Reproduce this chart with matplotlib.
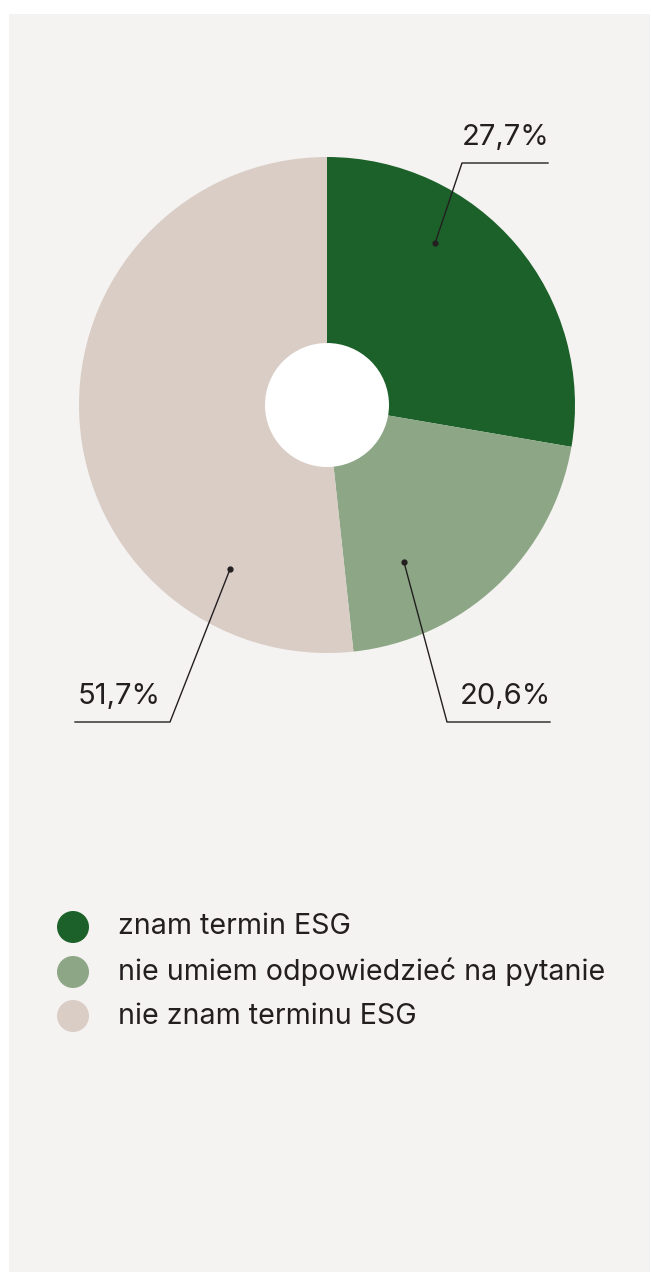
import matplotlib
matplotlib.use('Agg')
import matplotlib.pyplot as plt
from matplotlib.patches import Rectangle, Circle
import numpy as np

plt.rcParams['font.family'] = ['Inter', 'DejaVu Sans']

categories = ['znam termin ESG', 'nie umiem odpowiedzieć na pytanie', 'nie znam terminu ESG']
shares = [27.7, 20.6, 51.7]
labels = ['27,7%', '20,6%', '51,7%']
colors = ['#1c6129', '#8ca686', '#d9cdc6']

W, H = 651, 1272
fig = plt.figure(figsize=(W / 100, H / 100), dpi=100)
fig.patch.set_facecolor('white')
ax = fig.add_axes([0, 0, 1, 1])

# panel background
ax.add_patch(Rectangle((9, 0), 641, H - 14, facecolor='#f5f3f1', edgecolor='none', zorder=0))

cx, cy, R = 327, H - 405, 248
wedges, _ = ax.pie(shares, colors=colors, startangle=90, counterclock=False,
                   center=(cx, cy), radius=R, frame=True,
                   wedgeprops=dict(edgecolor='none', linewidth=0))
ax.set_xlim(0, W)
ax.set_ylim(0, H)
ax.set_aspect('equal')
ax.axis('off')
ax.add_patch(Circle((cx, cy), 62, facecolor='white', edgecolor='none', zorder=5))

# leader lines: (angle of dot, radius of dot, elbow point, line end, text side)
leaders = [
    (56.3, 195, (462, 163), (548, 163), 'right'),
    (-63.9, 175, (447, 722), (550, 722), 'right'),
    (-120.6, 190, (170, 722), (75, 722), 'left'),
]
for lab, (ang, r, elbow, end, side) in zip(labels, leaders):
    dx = cx + r * np.cos(np.radians(ang))
    dy = cy + r * np.sin(np.radians(ang))
    ex, ey = elbow[0], H - elbow[1]
    fx, fy = end[0], H - end[1]
    ax.plot([dx, ex, fx], [dy, ey, fy], color='#231f20', lw=1.0, zorder=6)
    ax.plot(dx, dy, 'o', color='#231f20', ms=3.5, zorder=7)
    if side == 'right':
        ax.text(fx + 1, fy + 12, lab, ha='right', va='bottom', fontsize=21,
                color='#231f20', zorder=7)
    else:
        ax.text(fx + 3, fy + 12, lab, ha='left', va='bottom', fontsize=21,
                color='#231f20', zorder=7)

# legend
leg_y = [927, 972, 1016]
for cat, col, y in zip(categories, colors, leg_y):
    ax.scatter([73], [H - y], s=(32 * 0.72) ** 2, color=col, edgecolors='none', zorder=5)
    ax.text(118, H - y, cat, ha='left', va='center', fontsize=20.6, color='#231f20')

fig.savefig('out.png', dpi=100, facecolor=fig.get_facecolor())
